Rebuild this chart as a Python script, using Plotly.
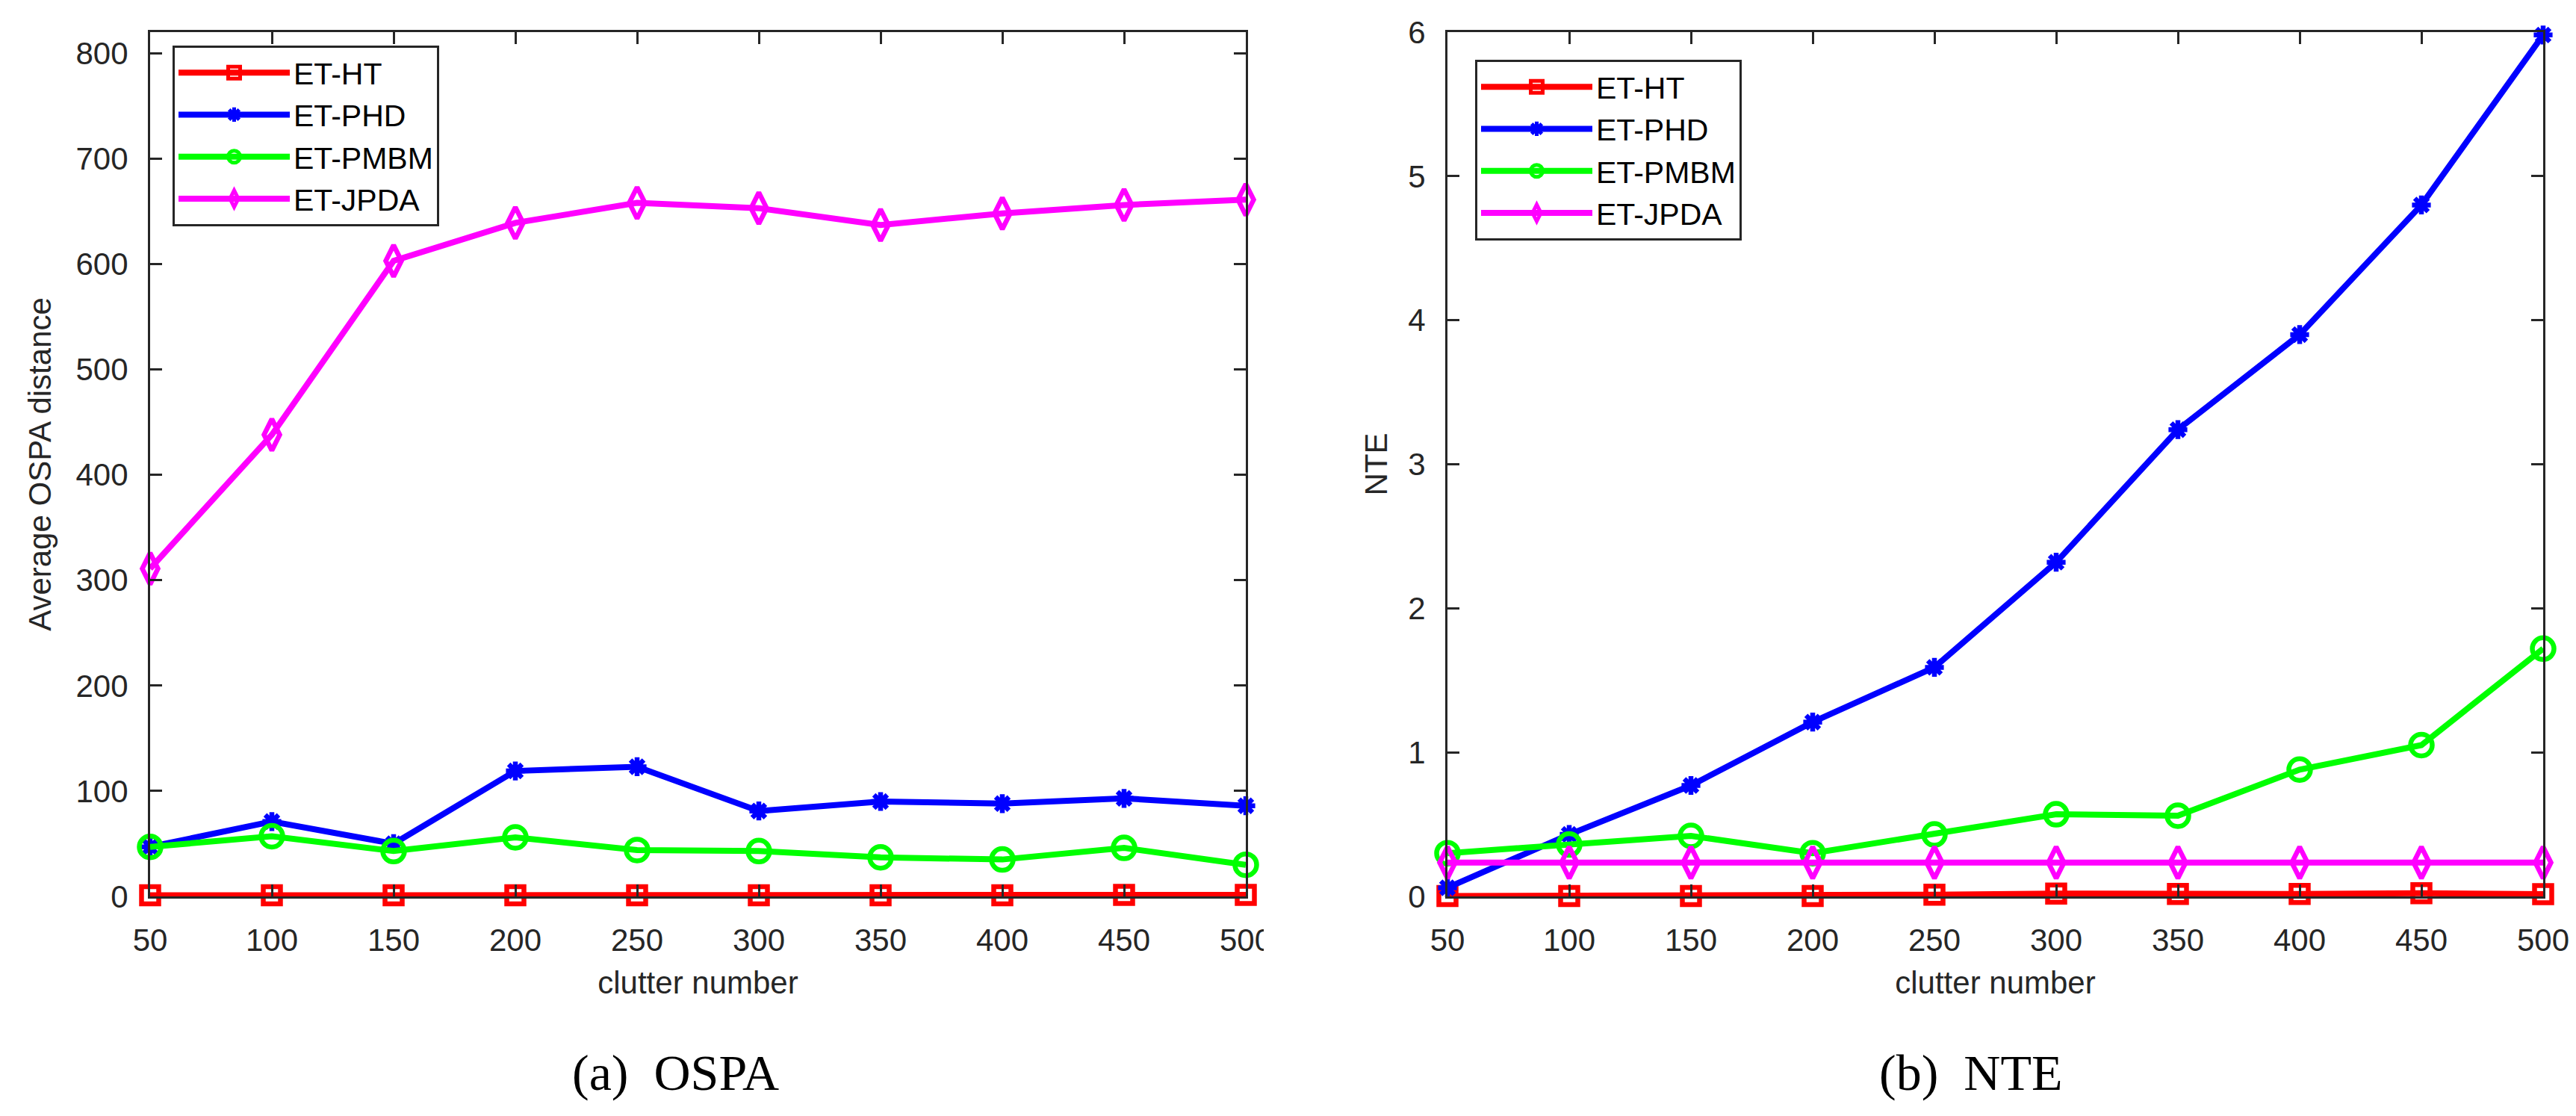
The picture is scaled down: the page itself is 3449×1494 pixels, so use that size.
import plotly.graph_objects as go

## clutter number on the x axis, same for both panels
clutter = [50, 100, 150, 200, 250, 300, 350, 400, 450, 500]

## (a) average OSPA distance
ospa_ht = [1, 1, 1, 1, 1, 1, 1, 1, 1.5, 1.5]
ospa_phd = [47, 71, 50, 119, 123, 81, 90, 88, 93, 86]
ospa_pmbm = [47, 57, 43, 56, 44, 43, 37, 35, 46, 30]
ospa_jpda = [311, 438, 603, 639, 658, 653, 637, 648, 656, 661]

## (b) NTE
nte_ht = [0.003, 0.003, 0.003, 0.003, 0.012, 0.02, 0.017, 0.017, 0.022, 0.015]
nte_phd = [0.06, 0.43, 0.77, 1.21, 1.59, 2.32, 3.24, 3.90, 4.80, 5.98]
nte_pmbm = [0.30, 0.36, 0.42, 0.30, 0.43, 0.57, 0.56, 0.88, 1.05, 1.72]
nte_jpda = [0.235, 0.235, 0.235, 0.235, 0.235, 0.235, 0.235, 0.235, 0.235, 0.235]

names = ["ET-HT", "ET-PHD", "ET-PMBM", "ET-JPDA"]
x_ticks = [50, 100, 150, 200, 250, 300, 350, 400, 450, 500]
ospa_ticks = [0, 100, 200, 300, 400, 500, 600, 700, 800]
nte_ticks = [0, 1, 2, 3, 4, 5, 6]

W, H = 3449, 1494
AX = "#262626"
FONT = "Liberation Sans, Arial, sans-serif"

styles = [
    dict(color="#ff0000", symbol="square-open", size=23),
    dict(color="#0000ff", symbol="asterisk-open", size=21),
    dict(color="#00ff00", symbol="circle-open", size=29),
    dict(color="#ff00ff", symbol="diamond-tall-open", size=30),
]


def px(v, total):
    return v / total


fig = go.Figure()

panels = [
    ("x", "y", "legend", [ospa_ht, ospa_phd, ospa_pmbm, ospa_jpda]),
    ("x2", "y2", "legend2", [nte_ht, nte_phd, nte_pmbm, nte_jpda]),
]
for xa, ya, leg, series in panels:
    for name, vals, st in zip(names, series, styles):
        fig.add_trace(go.Scatter(
            x=clutter, y=vals, name=name, mode="lines+markers",
            xaxis=xa, yaxis=ya, legend=leg, cliponaxis=False,
            line=dict(color=st["color"], width=8),
            marker=dict(symbol=st["symbol"], size=st["size"], color=st["color"],
                        line=dict(color=st["color"], width=6.5)),
        ))

y_dom = [1 - px(1192, H), 1 - px(35, H)]
axis_common = dict(
    showline=True, linecolor=AX, linewidth=3, mirror="ticks",
    ticks="inside", ticklen=16, tickwidth=3, tickcolor=AX,
    showgrid=False, zeroline=False,
    tickfont=dict(family=FONT, size=42, color=AX),
    automargin=False,
)
title_font = dict(family=FONT, size=42, color=AX)

legend_common = dict(
    xanchor="left", yanchor="top", bgcolor="white", bordercolor=AX, borderwidth=3,
    itemwidth=149, tracegroupgap=0, font=dict(family=FONT, size=41, color="black"),
)

fig.update_layout(
    width=W, height=H,
    margin=dict(l=0, r=0, t=0, b=0),
    paper_bgcolor="white", plot_bgcolor="white",
    showlegend=True,
    xaxis=dict(domain=[px(193, W), px(1660, W)], range=[50, 500], tickvals=x_ticks,
               anchor="y", ticklabelstandoff=20,
               title=dict(text="clutter number", font=title_font, standoff=20),
               **axis_common),
    yaxis=dict(domain=y_dom, range=[0, 820], tickvals=ospa_ticks, anchor="x",
               ticklabelstandoff=18,
               title=dict(text="Average OSPA distance", font=title_font, standoff=20),
               **axis_common),
    xaxis2=dict(domain=[px(1930, W), px(3397, W)], range=[50, 500], tickvals=x_ticks,
                anchor="y2", ticklabelstandoff=20,
                title=dict(text="clutter number", font=title_font, standoff=20),
                **axis_common),
    yaxis2=dict(domain=y_dom, range=[0, 6], tickvals=nte_ticks, anchor="x2",
                ticklabelstandoff=18,
                title=dict(text="NTE", font=title_font, standoff=15),
                **axis_common),
    legend=dict(x=px(223, W), y=1 - px(53, H), **legend_common),
    legend2=dict(x=px(1967, W), y=1 - px(72, H), **legend_common),
)

# sub-figure captions
cap_font = dict(family="Liberation Serif, Times New Roman, serif", size=68, color="black")
fig.add_annotation(text="(a)\u2002OSPA", x=px(896, W), y=1 - px(1428, H), xref="paper", yref="paper",
                   showarrow=False, font=cap_font, xanchor="center", yanchor="middle")
fig.add_annotation(text="(b)\u2002NTE", x=px(2630, W), y=1 - px(1428, H), xref="paper", yref="paper",
                   showarrow=False, font=cap_font, xanchor="center", yanchor="middle")

# the left panel was cropped through its last tick label
fig.add_shape(type="rect", xref="paper", yref="paper", layer="above",
              x0=px(1684, W), x1=px(1780, W), y0=1 - px(1285, H), y1=1 - px(1205, H),
              fillcolor="white", line=dict(width=0))

fig.write_html("out.html")
